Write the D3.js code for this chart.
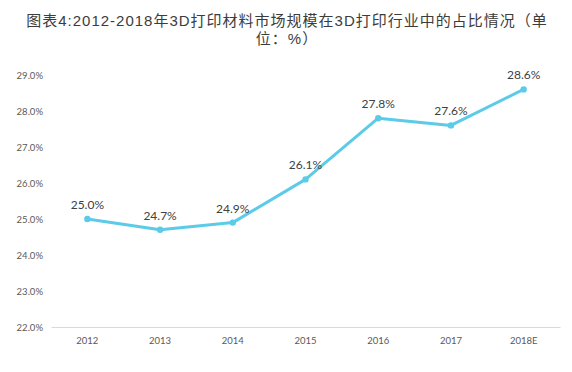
<!DOCTYPE html>
<html>
<head>
<meta charset="utf-8">
<script src="https://cdn.jsdelivr.net/npm/d3@7"></script>
<style>
  html, body { margin: 0; padding: 0; background: #fff; }
  svg { display: block; font-family: "Noto Sans CJK SC", "Noto Sans", sans-serif; }
</style>
</head>
<body>
<div id="chart"></div>
<script>
const years = ["2012", "2013", "2014", "2015", "2016", "2017", "2018E"];
const shares = [25.0, 24.7, 24.9, 26.1, 27.8, 27.6, 28.6];
const yTicks = [22, 23, 24, 25, 26, 27, 28, 29];
const titleLines = ["图表4:2012-2018年3D打印材料市场规模在3D打印行业中的占比情况（单", "位：%）"];

const width = 572, height = 372;
const svg = d3.select("#chart").append("svg")
  .attr("width", width).attr("height", height);

// title, wrapped into two lines like the source
svg.append("g").selectAll("text")
  .data(titleLines)
  .enter().append("text")
  .attr("x", width / 2 + 1)
  .attr("y", (d, i) => 26 + i * 18)
  .attr("text-anchor", "middle")
  .attr("font-family", "'Liberation Sans', 'Noto Sans CJK SC', sans-serif")
  .attr("font-size", 15)
  .attr("letter-spacing", 1)
  .attr("fill", "#3c3c3c")
  .text((d) => d);

const x = d3.scaleBand().domain(years).range([51, 560]);
const y = d3.scaleLinear().domain([22, 29]).range([327, 75]);
const cx = (d, i) => x(years[i]) + x.bandwidth() / 2;

// x axis
const xa = svg.append("g")
  .attr("transform", "translate(0,327)")
  .call(d3.axisBottom(x).tickSize(0).tickPadding(10));
xa.select(".domain").attr("stroke", "#d9d9d9");
xa.selectAll("text").attr("font-size", 9.5).attr("fill", "#595959")
  .attr("font-family", "Lato, 'Noto Sans', sans-serif");

// y axis, labels only
const ya = svg.append("g")
  .attr("transform", "translate(43,0)")
  .call(d3.axisLeft(y).tickValues(yTicks).tickSize(0).tickPadding(0)
    .tickFormat((d) => d.toFixed(1) + "%"));
ya.select(".domain").remove();
ya.selectAll("text").attr("font-size", 9.5).attr("fill", "#595959")
  .attr("font-family", "Lato, 'Noto Sans', sans-serif");

const line = d3.line().x(cx).y((d) => y(d));
svg.append("path")
  .datum(shares)
  .attr("d", line)
  .attr("fill", "none")
  .attr("stroke", "#5bcbe8")
  .attr("stroke-width", 3)
  .attr("stroke-linejoin", "round");

svg.selectAll(".dot")
  .data(shares)
  .enter().append("circle")
  .attr("class", "dot")
  .attr("cx", cx)
  .attr("cy", (d) => y(d))
  .attr("r", 3.2)
  .attr("fill", "#5bcbe8");

svg.selectAll(".lbl")
  .data(shares)
  .enter().append("text")
  .attr("class", "lbl")
  .attr("x", cx)
  .attr("y", (d) => y(d) - 10)
  .attr("text-anchor", "middle")
  .attr("font-size", 12)
  .attr("fill", "#404040")
  .attr("font-family", "Lato, 'Noto Sans', sans-serif")
  .text((d) => d.toFixed(1) + "%");
</script>
</body>
</html>
